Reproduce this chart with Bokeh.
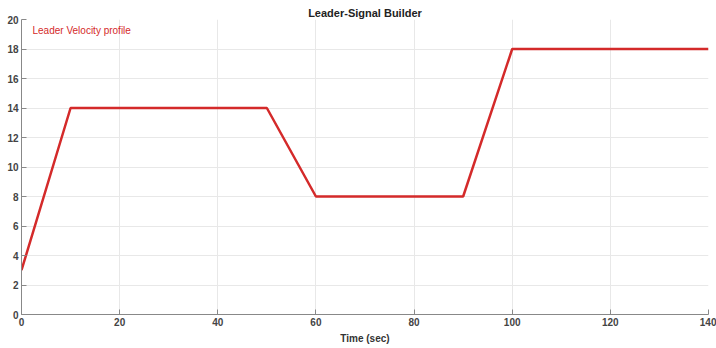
from bokeh.plotting import figure
from bokeh.models import Range1d, Label, FixedTicker
from bokeh.embed import file_html
from bokeh.resources import INLINE

time_sec = [0, 10, 50, 60, 90, 100, 140]
velocity = [3, 14, 14, 8, 8, 18, 18]
x_ticks = [0, 20, 40, 60, 80, 100, 120, 140]
y_ticks = [0, 2, 4, 6, 8, 10, 12, 14, 16, 18, 20]

p = figure(width=716, height=348, output_backend="svg", toolbar_location=None,
           x_range=Range1d(0, 140), y_range=Range1d(0, 20),
           min_border_left=21, min_border_right=8, min_border_top=19, min_border_bottom=34,
           title="Leader-Signal Builder")
p.title.align = "center"
p.title.text_font = "Liberation Sans"
p.title.text_font_size = "11px"
p.title.text_font_style = "bold"
p.title.text_color = "#222222"
p.title.offset = 0
p.title.standoff = 2

p.line(time_sec, velocity, line_color="#d42a2a", line_width=2.5)

p.xaxis.ticker = FixedTicker(ticks=x_ticks)
p.yaxis.ticker = FixedTicker(ticks=y_ticks)
for ax in (p.xaxis[0], p.yaxis[0]):
    ax.major_tick_in = 5
    ax.major_tick_out = 0
    ax.minor_tick_in = 0
    ax.minor_tick_out = 0
    ax.axis_line_color = "#888888"
    ax.major_tick_line_color = "#888888"
    ax.major_label_text_font = "Liberation Sans"
    ax.major_label_text_font_size = "10px"
    ax.major_label_text_font_style = "bold"
    ax.major_label_text_color = "#444444"
    ax.major_label_standoff = 3
p.xaxis.axis_label = "Time (sec)"
p.xaxis.axis_label_text_font = "Liberation Sans"
p.xaxis.axis_label_text_font_size = "10px"
p.xaxis.axis_label_text_font_style = "bold"
p.xaxis.axis_label_text_color = "#333333"
p.xaxis.axis_label_standoff = 4

p.xgrid.grid_line_color = "#e8e8e8"
p.ygrid.grid_line_color = "#e8e8e8"
p.outline_line_color = None

p.add_layout(Label(x=11, y=284, x_units="screen", y_units="screen",
                   text="Leader Velocity profile", text_color="#d42a2a",
                   text_font="Liberation Sans", text_font_size="10px",
                   text_baseline="middle"))

open("out.html", "w").write(file_html(p, INLINE))
